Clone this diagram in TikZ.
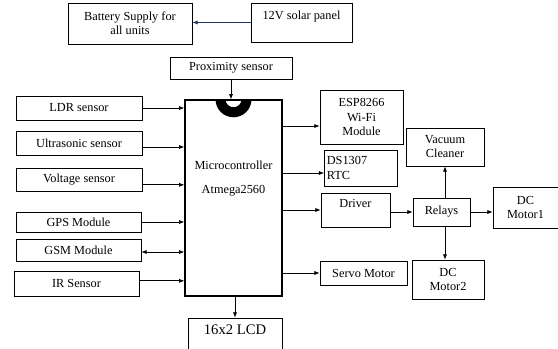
\documentclass[tikz,border=0pt]{standalone}
\usepackage{fontspec}
\setmainfont{Liberation Serif}
\usetikzlibrary{arrows.meta}
\definecolor{navyline}{RGB}{31,56,100}

\begin{document}
\begin{tikzpicture}[x=0.03cm,y=-0.03cm,>={Latex[length=4.5pt,width=3.5pt]},
    line width=0.6pt,
    blockbox/.style={draw, align=center, inner sep=2pt, font=\fontsize{10.5}{12}\selectfont},
    link/.style={->}]
    \useasboundingbox (0,0) rectangle (558,349);
    % power
    \node (batt) [blockbox, minimum width=3.72cm, minimum height=1.23cm] at (130,23.5) {Battery Supply for\\all units};
    \node (solar) [blockbox, minimum width=3.03cm, minimum height=1.17cm] at (301.5,22.5) {12V solar panel\\~};
    % controller
    \node (micro) [blockbox, line width=1.2pt, minimum width=2.91cm, minimum height=5.88cm] at (233.5,198) {Microcontroller\\[0.3cm]Atmega2560\\[0.8cm]~};
    \fill ([xshift=-0.54cm]micro.north) arc (180:360:0.54cm) -- ++(-0.3cm,0) arc (0:-180:0.24cm) -- cycle;
    \node (prox) [blockbox, minimum width=3.66cm, minimum height=0.66cm] at (231,68) {Proximity sensor};
    \node (lcd) [blockbox, minimum width=2.82cm, minimum height=1.2cm, font=\fontsize{12.5}{15}\selectfont] at (235,338) {16x2 LCD\\~};
    % inputs
    \node (ldr) [blockbox, minimum width=3.78cm, minimum height=0.72cm] at (79,108) {LDR sensor};
    \node (sonic) [blockbox, minimum width=3.78cm, minimum height=0.72cm] at (79,143) {Ultrasonic sensor};
    \node (volt) [blockbox, minimum width=3.78cm, minimum height=0.69cm] at (79,179.5) {Voltage sensor};
    \node (gps) [blockbox, minimum width=3.75cm, minimum height=0.6cm] at (78.5,222) {GPS Module};
    \node (gsm) [blockbox, minimum width=3.75cm, minimum height=0.66cm] at (78.5,250) {GSM Module};
    \node (ir) [blockbox, minimum width=3.75cm, minimum height=0.75cm] at (76.5,283.5) {IR Sensor};
    % outputs
    \node (esp) [blockbox, minimum width=2.49cm, minimum height=1.62cm] at (361.5,117) {ESP8266\\Wi-Fi\\Module};
    \node (rtc) [blockbox, align=left, text width=2.05cm, minimum height=1.08cm] at (361,168) {DS1307\\RTC};
    \node (driver) [blockbox, minimum width=2.07cm, minimum height=1.02cm] at (355.5,210) {Driver\\~};
    \node (relays) [blockbox, minimum width=1.71cm, minimum height=0.84cm] at (441.5,212) {Relays};
    \node (vac) [blockbox, minimum width=2.34cm, minimum height=1.14cm] at (445,147) {Vacuum\\Cleaner};
    \node (motor1) [blockbox, minimum width=1.95cm, minimum height=1.23cm] at (525.5,207.5) {DC\\Motor1};
    \node (servo) [blockbox, minimum width=2.61cm, minimum height=0.72cm] at (363.5,273) {Servo Motor};
    \node (motor2) [blockbox, minimum width=2.16cm, minimum height=1.17cm] at (448,279.5) {DC\\Motor2};

    \draw[link, navyline] (solar.west) -- (solar.west -| batt.east);
    \draw[link] (prox.south) -- (prox.south |- micro.north);
    \draw[link] (ldr.east) -- (ldr.east -| micro.west);
    \draw[link] ([yshift=-0.12cm]sonic.east) -- ([yshift=-0.12cm]sonic.east -| micro.west);
    \draw[link] ([yshift=-0.16cm]volt.east) -- ([yshift=-0.16cm]volt.east -| micro.west);
    \draw[link] (gps.east) -- (gps.east -| micro.west);
    \draw[<->] ([yshift=-0.06cm]gsm.east) -- ([yshift=-0.06cm]gsm.east -| micro.west);
    \draw[link] ([yshift=0.08cm]ir.east) -- ([yshift=0.08cm]ir.east -| micro.west);
    \draw[link] ([yshift=-0.27cm]esp.west -| micro.east) -- ([yshift=-0.27cm]esp.west);
    \draw[link] ([yshift=-0.15cm]rtc.west -| micro.east) -- ([yshift=-0.15cm]rtc.west);
    \draw[link] (driver.west -| micro.east) -- (driver.west);
    \draw[link] (relays.west -| driver.east) -- (relays.west);
    \draw[link] (relays.east) -- (relays.east -| motor1.west);
    \draw[link] (vac |- relays.north) -- (vac.south);
    \draw[link] (vac |- relays.south) -- (vac |- motor2.north);
    \draw[link] (servo.west -| micro.east) -- (servo.west);
    \draw[link] (lcd |- micro.south) -- (lcd.north);
\end{tikzpicture}
\end{document}
